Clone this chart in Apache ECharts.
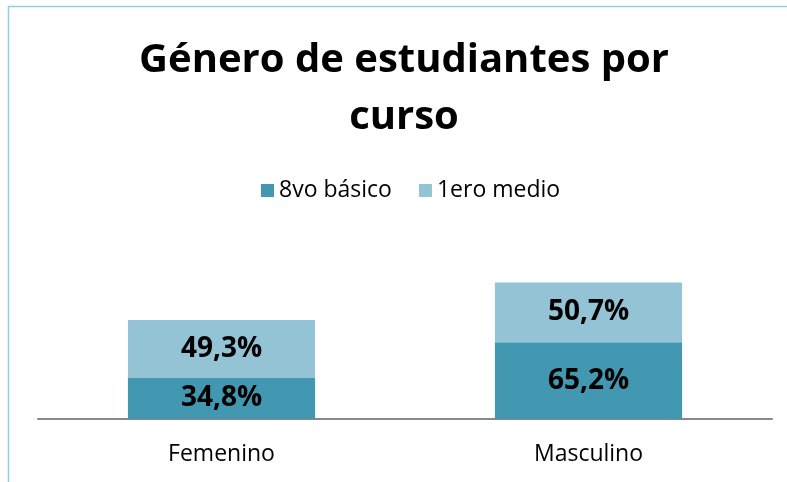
<!DOCTYPE html>
<html>
<head>
    <meta charset="utf-8">
    <title>Género de estudiantes por curso</title>
    <script src="https://cdn.jsdelivr.net/npm/echarts@6/dist/echarts.min.js"></script>
    <style>
        body { margin: 0; background: #fff; }
    </style>
</head>
<body>
    <div id="main" style="width: 787px;height:482px;"></div>
    <script type="text/javascript">
    var categories = ['Femenino', 'Masculino'];
    var seriesNames = ['8vo básico', '1ero medio'];
    var basico8 = [34.8, 65.2];
    var medio1 = [49.3, 50.7];
    var colors = ['#4298b0', '#93c3d5'];

    var myChart = echarts.init(document.getElementById('main'));

    function pct(p) {
        return p.value.toFixed(1).replace('.', ',') + '%';
    }

    var labelStyle = {
        show: true,
        position: 'inside',
        formatter: pct,
        color: '#000',
        fontFamily: 'Open Sans',
        fontWeight: 'bold',
        fontSize: 28
    };

    var option = {
        animation: false,
        color: colors,
        title: {
            text: 'Género de estudiantes por\ncurso',
            left: 399,
            textAlign: 'center',
            top: 27,
            textStyle: {
                fontFamily: 'Open Sans',
                fontWeight: 'bold',
                fontSize: 40,
                lineHeight: 57,
                color: '#000'
            }
        },
        legend: {
            data: seriesNames,
            top: 174,
            left: 256,
            itemWidth: 13,
            itemHeight: 13,
            itemGap: 27,
            icon: 'rect',
            textStyle: {
                fontFamily: 'Open Sans',
                fontSize: 23,
                color: '#000'
            }
        },
        grid: {
            left: 38,
            right: 15,
            top: 254,
            bottom: 63
        },
        xAxis: {
            type: 'category',
            data: categories,
            axisLine: { lineStyle: { color: '#898989', width: 2 } },
            axisTick: { show: false },
            axisLabel: {
                margin: 24,
                fontFamily: 'Open Sans',
                fontSize: 23,
                color: '#000'
            }
        },
        yAxis: {
            type: 'value',
            min: 0,
            max: 140,
            show: false,
            splitLine: { show: false }
        },
        graphic: [{
            type: 'rect',
            shape: { x: 8.5, y: 6.5, width: 820, height: 520 },
            style: { fill: 'none', stroke: '#8fcfe0', lineWidth: 1.5 },
            silent: true
        }],
        series: [{
            name: seriesNames[0],
            type: 'bar',
            stack: 'total',
            barWidth: '51%',
            data: basico8,
            label: labelStyle
        }, {
            name: seriesNames[1],
            type: 'bar',
            stack: 'total',
            barWidth: '51%',
            data: medio1,
            label: labelStyle
        }]
    };
    myChart.setOption(option);
    </script>
</body>
</html>
